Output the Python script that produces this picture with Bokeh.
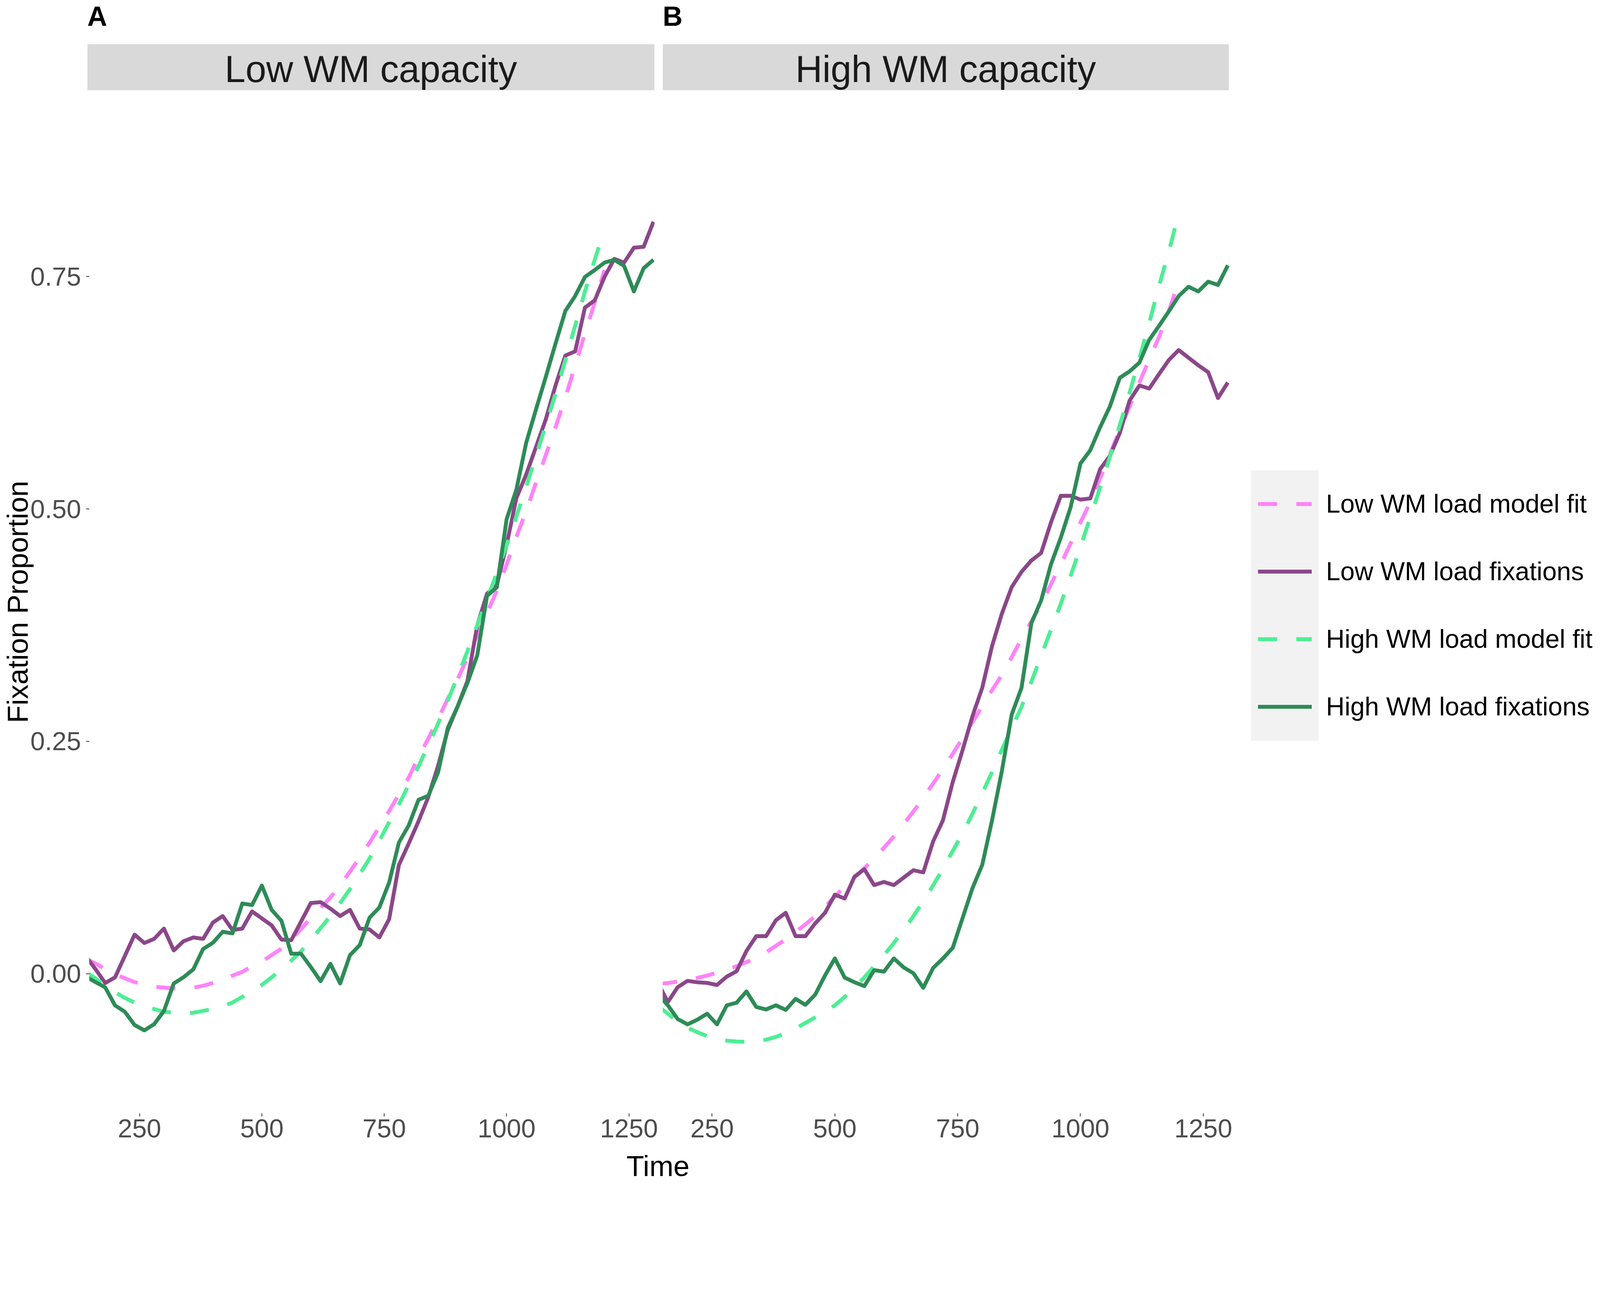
from bokeh.plotting import figure
from bokeh.layouts import row, column
from bokeh.models import (Range1d, FixedTicker, BoxAnnotation, Label, Legend,
                          LegendItem, NumeralTickFormatter)
from bokeh.embed import file_html
from bokeh.resources import INLINE

# ---------------- data ----------------
time_obs = list(range(140, 1301, 20))   # observed fixation proportions, 20 ms bins
time_fit = list(range(140, 1201, 20))   # model fit window

# Panel A: Low WM capacity
a_low_fix = [0.019, 0.005, -0.010, -0.004, 0.019, 0.042, 0.033, 0.0375, 0.0485, 0.025,
             0.035, 0.039, 0.0375, 0.055, 0.062, 0.047, 0.0485, 0.067, 0.0595, 0.052,
             0.0367, 0.036, 0.056, 0.076, 0.077, 0.070, 0.062, 0.0687, 0.0485, 0.0476,
             0.039, 0.0586, 0.117, 0.140, 0.164, 0.190, 0.2236, 0.2625, 0.2876, 0.315,
             0.3746, 0.4088, 0.418, 0.4614, 0.5117, 0.537, 0.5666, 0.5963, 0.633, 0.665,
             0.6695, 0.7166, 0.7244, 0.7496, 0.7690, 0.765, 0.7810, 0.7820, 0.8090]
a_high_fix = [-0.003, -0.009, -0.0147, -0.0341, -0.0409, -0.0552, -0.061, -0.0543, -0.040, -0.0105,
              -0.0038, 0.0047, 0.0266, 0.0333, 0.0451, 0.0434, 0.0755, 0.0738, 0.0948, 0.0687,
              0.0569, 0.0215, 0.0215, 0.0072, -0.008, 0.0106, -0.0105, 0.0199, 0.0308, 0.0603,
              0.0712, 0.098, 0.1412, 0.1595, 0.187, 0.1915, 0.2167, 0.2647, 0.2876, 0.3128,
              0.3425, 0.4065, 0.4157, 0.4889, 0.5209, 0.5712, 0.607, 0.642, 0.678, 0.713,
              0.729, 0.7496, 0.7570, 0.7650, 0.7680, 0.7615, 0.7340, 0.7590, 0.7680]
a_low_fit = [0.016, 0.011, 0.005, 0.000, -0.005, -0.009, -0.0115, -0.014, -0.015, -0.0158,
             -0.0157, -0.015, -0.013, -0.010, -0.007, -0.002, 0.002, 0.008, 0.013, 0.020,
             0.027, 0.037, 0.048, 0.060, 0.071, 0.082, 0.095, 0.110, 0.125, 0.141,
             0.158, 0.175, 0.193, 0.211, 0.233, 0.253, 0.274, 0.296, 0.317, 0.340,
             0.364, 0.388, 0.412, 0.440, 0.470, 0.498, 0.528, 0.558, 0.588, 0.620,
             0.654, 0.689, 0.722, 0.757]
a_high_fit = [0.002, -0.005, -0.013, -0.020, -0.026, -0.031, -0.035, -0.038, -0.041, -0.042,
              -0.0425, -0.042, -0.040, -0.038, -0.035, -0.031, -0.025, -0.018, -0.012, -0.004,
              0.005, 0.014, 0.024, 0.036, 0.049, 0.062, 0.076, 0.091, 0.107, 0.124,
              0.143, 0.163, 0.182, 0.203, 0.223, 0.246, 0.269, 0.294, 0.320, 0.347,
              0.375, 0.403, 0.431, 0.461, 0.492, 0.524, 0.557, 0.590, 0.624, 0.660,
              0.697, 0.734, 0.768, 0.801]

# Panel B: High WM capacity
b_low_fix = [-0.010, -0.0305, -0.0145, -0.0077, -0.0092, -0.0099, -0.0122, -0.0031, 0.0026, 0.0244,
             0.0404, 0.0404, 0.0575, 0.0655, 0.0404, 0.0404, 0.0541, 0.0655, 0.085, 0.0809,
             0.1044, 0.1124, 0.0953, 0.0987, 0.0953, 0.1033, 0.1113, 0.109, 0.1422, 0.165,
             0.2062, 0.2405, 0.2768, 0.3075, 0.3525, 0.3873, 0.4159, 0.4323, 0.4445, 0.4527,
             0.4855, 0.5141, 0.5141, 0.510, 0.5113, 0.5428, 0.5571, 0.5817, 0.6165, 0.6328,
             0.6295, 0.6451, 0.6602, 0.6709, 0.6627, 0.6545, 0.6471, 0.6193, 0.636]
b_high_fix = [-0.022, -0.034, -0.0488, -0.0545, -0.0495, -0.0431, -0.0545, -0.034, -0.0312, -0.0191,
              -0.0358, -0.0385, -0.034, -0.039, -0.0271, -0.0335, -0.0225, -0.0019, 0.0164, -0.0042,
              -0.0092, -0.0134, 0.0038, 0.0022, 0.0164, 0.0068, 0.0004, -0.0152, 0.0061, 0.0164,
              0.0278, 0.0598, 0.0918, 0.117, 0.165, 0.218, 0.2788, 0.3075, 0.377, 0.4016,
              0.4405, 0.4691, 0.5019, 0.5489, 0.5632, 0.5878, 0.6103, 0.641, 0.648, 0.6574,
              0.6819, 0.697, 0.7126, 0.7290, 0.7390, 0.7340, 0.7445, 0.7410, 0.7620]
b_low_fit = [-0.011, -0.010, -0.0085, -0.007, -0.0045, -0.002, 0.001, 0.0045, 0.008, 0.0125,
             0.017, 0.023, 0.030, 0.037, 0.045, 0.053, 0.062, 0.072, 0.083, 0.094,
             0.1037, 0.1135, 0.124, 0.1355, 0.1477, 0.161, 0.1745, 0.1893, 0.2045, 0.220,
             0.2365, 0.2535, 0.2705, 0.288, 0.305, 0.3215, 0.3405, 0.3605, 0.379, 0.3975,
             0.419, 0.4405, 0.463, 0.4855, 0.5075, 0.533, 0.559, 0.585, 0.610, 0.636,
             0.661, 0.685, 0.713, 0.745]
b_high_fit = [-0.035, -0.043, -0.052, -0.058, -0.063, -0.067, -0.070, -0.072, -0.073, -0.0733,
              -0.0725, -0.071, -0.068, -0.064, -0.059, -0.053, -0.047, -0.041, -0.034, -0.025,
              -0.015, -0.004, 0.008, 0.020, 0.033, 0.047, 0.062, 0.078, 0.095, 0.113,
              0.132, 0.151, 0.172, 0.194, 0.217, 0.241, 0.264, 0.287, 0.314, 0.342,
              0.370, 0.398, 0.428, 0.459, 0.491, 0.523, 0.556, 0.590, 0.625, 0.662,
              0.700, 0.740, 0.777, 0.818]

panel_titles = ["Low WM capacity", "High WM capacity"]
panel_tags = ["A", "B"]
series_labels = ["Low WM load model fit", "Low WM load fixations",
                 "High WM load model fit", "High WM load fixations"]
x_ticks = [250, 500, 750, 1000, 1250]
y_ticks = [0.0, 0.25, 0.5, 0.75]
x_title = "Time"
y_title = "Fixation Proportion"

# ---------------- styling / layout ----------------
S = 1.11                      # reference-picture px per CSS px


def c(v):
    return v / S


FONT = "Liberation Sans"
C_LOW_FIT, C_LOW_FIX = "#FF83FA", "#8B4789"
C_HIGH_FIT, C_HIGH_FIX = "#4EEE94", "#2E8B57"
LW = c(11)
DASH = "49 49"
MID = 0.3465                  # em offset between text-box centre and baseline
HALF = 0.56                   # half text-box height in em

TICK_FS = c(74)
TITLE_FS = c(82)
STRIP_FS = c(106)
TAG_FS = c(78)
LEG_FS = 66.0

# page (CSS px) geometry
A_FRAME_L, A_FRAME_R = 231, 1683
B_FRAME_L, PAGE_R = 1704, 4100
TOP, PANEL_TOP, PANEL_BOT = 8, 239, 2857
W_A = (A_FRAME_L - 8) + (A_FRAME_R - A_FRAME_L) + 10      # 223 + 1452 + 10
W_B = PAGE_R - (8 + W_A)
BOTTOM_BORDER = 92
H_STRIP = PANEL_TOP - TOP
H_MAIN = (PANEL_BOT - PANEL_TOP) + BOTTOM_BORDER
H_T = 92

PX_MS = c(1.3958)
PX_UNIT = c(2640.7)
Y0 = c(2774.5)
A_X0 = 250 - (c(399.6) - A_FRAME_L) / PX_MS
B_X0 = 250 - (c(2031.7) - B_FRAME_L) / PX_MS


def yv(py):
    return (Y0 - py) / PX_UNIT


def xa(px):
    return A_X0 + (px - A_FRAME_L) / PX_MS


def xb(px):
    return B_X0 + (px - B_FRAME_L) / PX_MS


y_range = Range1d(yv(PANEL_BOT), yv(PANEL_TOP))
xr_A = Range1d(A_X0, xa(A_FRAME_R))
xr_B = Range1d(B_X0, xb(PAGE_R))
strip_y = Range1d(PANEL_TOP, TOP)       # page-pixel rows of the strip band (top = TOP)


def strip_fig(width, x_range, left, right, x0, x1, title, tag):
    s = figure(width=width, height=H_STRIP, x_range=x_range, y_range=strip_y,
               output_backend="svg", toolbar_location=None, title=None,
               x_axis_location=None, y_axis_location=None,
               min_border_left=left, min_border_right=right,
               min_border_top=0, min_border_bottom=0)
    s.outline_line_color = None
    s.grid.visible = False
    s.background_fill_color = "white"
    s.border_fill_color = "white"
    s.add_layout(BoxAnnotation(left=x0, right=x1, top=c(134), bottom=c(265) + 1,
                               fill_color="#D9D9D9", fill_alpha=1.0, line_color=None,
                               level="underlay"))
    s.add_layout(Label(x=(x0 + x1) / 2, y=c(241) - MID * STRIP_FS, text=title,
                       text_align="center", text_baseline="middle", text_font=FONT,
                       text_font_size=f"{STRIP_FS:.1f}px", text_color="#1A1A1A"))
    s.add_layout(Label(x=x0, y=TOP + 2 + HALF * TAG_FS, text=tag, text_align="left",
                       text_baseline="middle", text_font=FONT,
                       text_font_size=f"{TAG_FS:.1f}px", text_font_style="bold",
                       text_color="black"))
    return s


def base_fig(width, x_range, left, right, y_axis=True):
    p = figure(width=width, height=H_MAIN, x_range=x_range, y_range=y_range,
               output_backend="svg", toolbar_location=None, title=None,
               y_axis_location="left" if y_axis else None,
               min_border_left=left, min_border_right=right,
               min_border_top=0, min_border_bottom=BOTTOM_BORDER)
    p.outline_line_color = None
    p.background_fill_color = "white"
    p.border_fill_color = "white"
    p.grid.visible = False
    ax = p.xaxis[0]
    ax.ticker = FixedTicker(ticks=x_ticks)
    ax.axis_line_color = None
    ax.major_tick_out = 8
    ax.major_tick_in = 0
    ax.minor_tick_line_color = None
    ax.major_tick_line_color = "#333333"
    ax.major_tick_line_width = 2
    ax.major_label_text_font = FONT
    ax.major_label_text_font_size = f"{TICK_FS:.1f}px"
    ax.major_label_text_color = "#4D4D4D"
    ax.major_label_standoff = 7
    if y_axis:
        ay = p.yaxis[0]
        ay.ticker = FixedTicker(ticks=y_ticks)
        ay.formatter = NumeralTickFormatter(format="0.00")
        ay.axis_line_color = None
        ay.major_tick_out = 8
        ay.major_tick_in = 0
        ay.minor_tick_line_color = None
        ay.major_tick_line_color = "#333333"
        ay.major_tick_line_width = 2
        ay.major_label_text_font = FONT
        ay.major_label_text_font_size = f"{TICK_FS:.1f}px"
        ay.major_label_text_color = "#4D4D4D"
        ay.major_label_standoff = 13
        ay.axis_label = y_title
        ay.axis_label_text_font = FONT
        ay.axis_label_text_font_size = f"{TITLE_FS:.1f}px"
        ay.axis_label_text_font_style = "normal"
        ay.axis_label_text_color = "black"
        ay.axis_label_standoff = -12
    return p


def add_lines(p, lo_fit, lo_fix, hi_fit, hi_fix):
    r1 = p.line(time_fit, lo_fit, line_color=C_LOW_FIT, line_width=LW, line_dash=DASH,
                line_join="round")
    r2 = p.line(time_obs, lo_fix, line_color=C_LOW_FIX, line_width=LW, line_join="round")
    r3 = p.line(time_fit, hi_fit, line_color=C_HIGH_FIT, line_width=LW, line_dash=DASH,
                line_join="round")
    r4 = p.line(time_obs, hi_fix, line_color=C_HIGH_FIX, line_width=LW, line_join="round")
    return [r1, r2, r3, r4]


sA = strip_fig(W_A, xr_A, A_FRAME_L - 8, 10, A_X0, xa(A_FRAME_R), panel_titles[0], panel_tags[0])
sB = strip_fig(W_B, xr_B, B_FRAME_L - (8 + W_A), 0, B_X0, xb(c(3500)),
               panel_titles[1], panel_tags[1])

pA = base_fig(W_A, xr_A, A_FRAME_L - 8, 10, y_axis=True)
add_lines(pA, a_low_fit, a_low_fix, a_high_fit, a_high_fix)

pB = base_fig(W_B, xr_B, B_FRAME_L - (8 + W_A), 0, y_axis=False)
rB = add_lines(pB, b_low_fit, b_low_fix, b_high_fit, b_high_fix)

# legend: grey key column + items
pB.add_layout(BoxAnnotation(left=xb(c(3563)), right=xb(c(3755)), top=yv(c(1344.4)),
                            bottom=yv(c(2113)), fill_color="#F2F2F2", fill_alpha=1.0,
                            line_color=None, level="underlay"))
ROW_H = 173
leg_top = c(1439.8) - ROW_H / 2
legend = Legend(items=[LegendItem(label=lab, renderers=[r]) for lab, r in zip(series_labels, rB)],
                location=(c(3582.6) - B_FRAME_L, PANEL_BOT - (leg_top + 4 * ROW_H)),
                orientation="vertical", glyph_width=138, glyph_height=ROW_H, spacing=0,
                padding=0, margin=0, label_standoff=37,
                label_text_font=FONT, label_text_font_size=f"{LEG_FS:.1f}px",
                label_text_color="black", background_fill_alpha=0, border_line_alpha=0)
pB.add_layout(legend, "center")

# x-axis title spanning both panels (its own strip below the panels)
W_ALL = W_A + W_B
pT = figure(width=W_ALL, height=H_T, x_range=Range1d(0, W_ALL), y_range=Range1d(0, H_T),
            output_backend="svg", toolbar_location=None, title=None,
            x_axis_location=None, y_axis_location=None,
            min_border_left=0, min_border_right=0, min_border_top=0, min_border_bottom=0)
pT.outline_line_color = None
pT.grid.visible = False
pT.add_layout(Label(x=c(1878) - 8, y=H_T - 2 - HALF * TITLE_FS, text=x_title,
                    text_align="center", text_baseline="middle", text_font=FONT,
                    text_font_size=f"{TITLE_FS:.1f}px", text_color="black"))

layout = column(row(sA, sB), row(pA, pB), pT)
open("out.html", "w").write(file_html(layout, INLINE))
